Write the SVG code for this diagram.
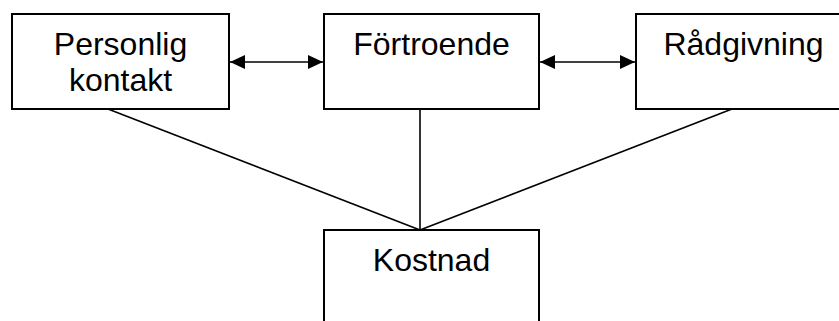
<svg xmlns="http://www.w3.org/2000/svg" width="839" height="321" viewBox="0 0 839 321">
<style>
.box{fill:#fff;stroke:#000;stroke-width:2}
.lbl{font-family:"Liberation Sans",Arial,sans-serif;font-size:32px;fill:#000;text-anchor:middle}
.conn{stroke:#000;stroke-width:1.6;fill:none}
</style>
<defs>
<marker id="ah" viewBox="0 0 15 14" refX="15" refY="7" markerWidth="15" markerHeight="14" markerUnits="userSpaceOnUse" orient="auto-start-reverse">
<path d="M0,0 L15,7 L0,14 Z" fill="#000"/>
</marker>
</defs>
<rect width="839" height="321" fill="#fff"/>
<g id="connectors">
<line class="conn" x1="108" y1="109" x2="420" y2="230"/>
<line class="conn" x1="420" y1="109" x2="420" y2="230"/>
<line class="conn" x1="732" y1="109" x2="420" y2="230"/>
<line class="conn" x1="230" y1="62" x2="323" y2="62" marker-start="url(#ah)" marker-end="url(#ah)"/>
<line class="conn" x1="540" y1="62" x2="635" y2="62" marker-start="url(#ah)" marker-end="url(#ah)"/>
</g>
<g id="personlig">
<rect class="box" x="12" y="14" width="217" height="95"/>
<text class="lbl" x="120.5" y="55">Personlig</text>
<text class="lbl" x="120.5" y="91">kontakt</text>
</g>
<g id="fortroende">
<rect class="box" x="324" y="14" width="215" height="95"/>
<text class="lbl" x="431.5" y="55">Förtroende</text>
</g>
<g id="radgivning">
<rect class="box" x="636" y="14" width="215" height="95"/>
<text class="lbl" x="743.5" y="55">Rådgivning</text>
</g>
<g id="kostnad">
<rect class="box" x="324" y="230" width="215" height="110"/>
<text class="lbl" x="431.5" y="271">Kostnad</text>
</g>
</svg>
